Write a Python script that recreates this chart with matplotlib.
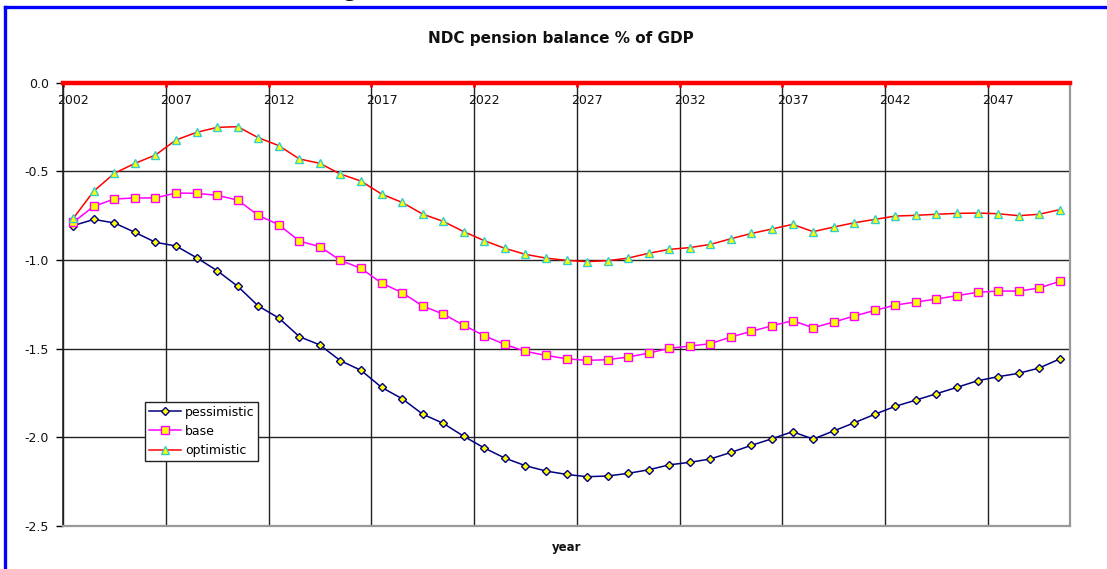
import numpy as np
import matplotlib.pyplot as plt
from matplotlib.lines import Line2D

# NDC pension balance, % of GDP, three scenarios, 2002-2050
years = np.arange(2002, 2051)

pessimistic = [-0.806, -0.771, -0.791, -0.844, -0.900, -0.921, -0.987, -1.060, -1.148, -1.259,
               -1.327, -1.432, -1.479, -1.568, -1.622, -1.718, -1.782, -1.869, -1.921, -1.994,
               -2.060, -2.117, -2.160, -2.190, -2.209, -2.222, -2.218, -2.203, -2.183, -2.155,
               -2.141, -2.122, -2.085, -2.045, -2.008, -1.968, -2.010, -1.964, -1.918, -1.870,
               -1.825, -1.790, -1.754, -1.718, -1.681, -1.658, -1.639, -1.609, -1.558]

base = [-0.787, -0.697, -0.656, -0.650, -0.650, -0.622, -0.624, -0.635, -0.662, -0.748,
        -0.801, -0.893, -0.925, -1.002, -1.047, -1.130, -1.184, -1.259, -1.305, -1.368,
        -1.427, -1.476, -1.515, -1.538, -1.557, -1.566, -1.562, -1.547, -1.525, -1.498,
        -1.485, -1.472, -1.434, -1.402, -1.371, -1.342, -1.382, -1.350, -1.316, -1.284,
        -1.254, -1.237, -1.220, -1.201, -1.182, -1.175, -1.175, -1.158, -1.120]

optimistic = [-0.765, -0.611, -0.511, -0.455, -0.408, -0.323, -0.280, -0.252, -0.248, -0.310,
              -0.355, -0.430, -0.455, -0.515, -0.555, -0.628, -0.675, -0.741, -0.782, -0.840,
              -0.891, -0.934, -0.968, -0.989, -1.002, -1.009, -1.004, -0.989, -0.962, -0.940,
              -0.930, -0.912, -0.880, -0.850, -0.825, -0.799, -0.840, -0.814, -0.790, -0.771,
              -0.752, -0.748, -0.742, -0.737, -0.735, -0.739, -0.750, -0.742, -0.716]

W, H = 1107, 569
fig = plt.figure(figsize=(W / 100, H / 100), dpi=100)
ax = fig.add_axes([63 / W, 43 / H, 1007 / W, 443.3 / H])

ax.plot(years, pessimistic, color='#000080', lw=1.1, marker='D', ms=4.5,
        mfc='yellow', mec='#000080', mew=1.0, label='pessimistic')
ax.plot(years, base, color='#ff00ff', lw=1.1, marker='s', ms=5.5,
        mfc='yellow', mec='#ff00ff', mew=1.0, label='base')
ax.plot(years, optimistic, color='red', lw=1.1, marker='^', ms=6,
        mfc='yellow', mec='#33cccc', mew=1.0, label='optimistic')

ax.set_xlim(years[0] - 0.5, years[-1] + 0.5)
ax.set_ylim(-2.5, 0.0)

# gridlines on category boundaries, labels at category centres
ax.set_xticks(np.arange(years[0] - 0.5, years[-1], 5))
ax.set_xticks(years[::5], minor=True)
ax.set_xticklabels([str(y) for y in years[::5]], minor=True)
ax.set_xticklabels([])
ax.tick_params(axis='x', which='major', bottom=False, top=True, direction='in',
               length=3, width=2, color='red', labelbottom=False, labeltop=False)
ax.tick_params(axis='x', which='minor', bottom=False, top=False, labelbottom=False,
               labeltop=True, pad=-19.5, labelsize=9, labelcolor='#111111')

ax.set_yticks([0.0, -0.5, -1.0, -1.5, -2.0, -2.5])
ax.set_yticklabels(['0.0', '-0.5', '-1.0', '-1.5', '-2.0', '-2.5'])
ax.tick_params(axis='y', direction='out', length=5, width=1, pad=5,
               labelsize=9, labelcolor='#111111')

ax.grid(True, which='major', color='#222222', lw=1.0)
ax.set_axisbelow(True)

ax.spines['top'].set_color('red')
ax.spines['top'].set_linewidth(3.2)
ax.spines['left'].set_color('#222222')
ax.spines['left'].set_linewidth(1.2)
for s in ('right', 'bottom'):
    ax.spines[s].set_color('#999999')
    ax.spines[s].set_linewidth(1.6)

ax.set_xlabel('year', fontsize=8.5, fontweight='bold', labelpad=11, color='#111111')

leg = ax.legend(loc='lower left', bbox_to_anchor=(0.0814, 0.147), fontsize=9,
                frameon=True, fancybox=False, edgecolor='#222222', framealpha=1,
                handlelength=2.6, handletextpad=0.3, labelspacing=0.5,
                borderpad=0.3, borderaxespad=0)
leg.get_frame().set_linewidth(1.0)

fig.text(561 / W, 1 - 38 / H, 'NDC pension balance % of GDP', ha='center', va='center',
         fontsize=11, fontweight='bold', color='#111111')

# page frame around the chart
fig.add_artist(Line2D([5 / W, 1], [1 - 7 / H, 1 - 7 / H], color='blue', lw=2.4,
                      transform=fig.transFigure))
fig.add_artist(Line2D([5 / W, 5 / W], [0, 1 - 7 / H], color='blue', lw=2.4,
                      transform=fig.transFigure))
fig.text(343 / W, 1 + 4 / H, 'g', family='Liberation Serif', fontsize=17,
         fontweight='bold', ha='left', va='baseline', color='#111111')

fig.savefig('out.png', dpi=100)
